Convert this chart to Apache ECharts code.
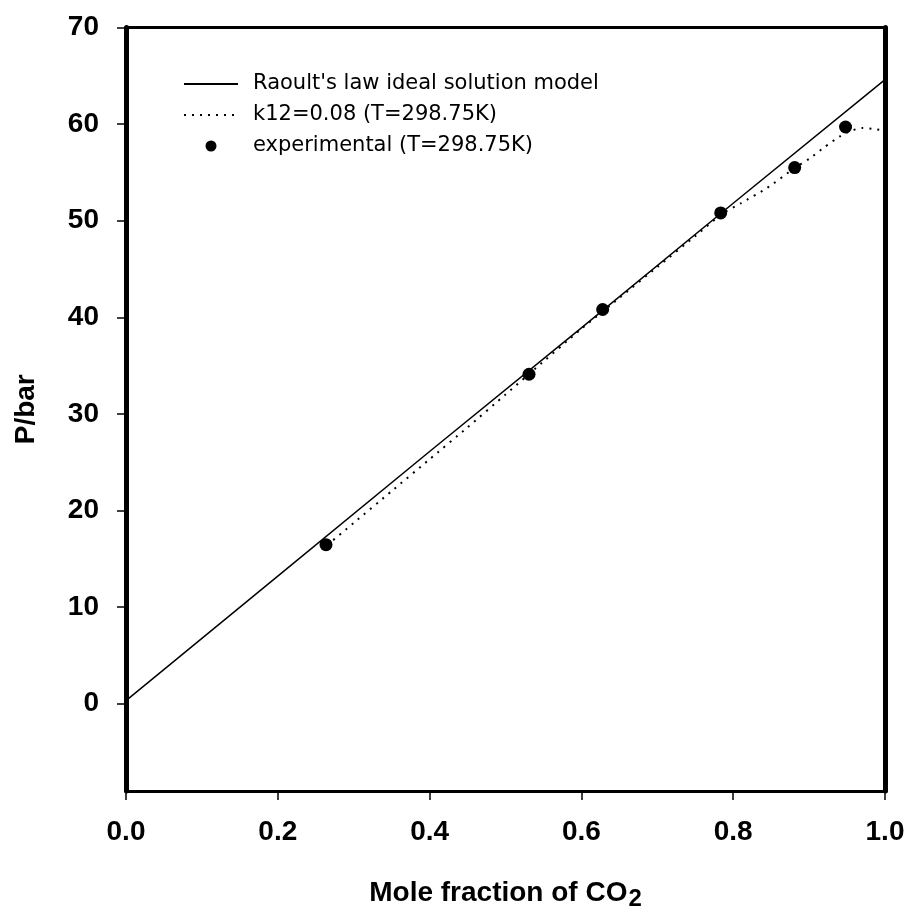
<!DOCTYPE html>
<html lang="en">

<head>
    <meta charset="UTF-8">
    <title>P-x CO2</title>
    <script type="text/javascript" src="https://cdn.jsdelivr.net/npm/echarts@6/dist/echarts.min.js"></script>
    <style>
        body {
            margin: 0;
            background-color: #ffffff;
            overflow: hidden;
        }
    </style>
</head>

<body>
    <div style="width: 908px; height: 911px" id="container"></div>
</body>
<script>
    var dom = document.getElementById("container");
    var myChart = echarts.init(dom);

    let raoultX = [0, 0.2, 0.4, 0.6, 0.8, 1.0];
    let raoultP = [0.3, 13.2, 26.1, 38.9, 51.8, 64.6];
    let k12X = [0.265, 0.30, 0.35, 0.40, 0.45, 0.50, 0.53, 0.60, 0.65, 0.70, 0.75, 0.785, 0.81, 0.845, 0.88, 0.90, 0.92, 0.94, 0.955, 0.97, 0.985, 1.0];
    let k12P = [16.4, 18.7, 22.0, 25.3, 28.6, 32.0, 34.05, 38.8, 42.0, 45.2, 48.4, 50.7, 51.8, 53.4, 55.4, 56.4, 57.6, 58.7, 59.3, 59.6, 59.5, 59.3];
    let expX = [0.2635, 0.531, 0.628, 0.7835, 0.881, 0.948];
    let expP = [16.45, 34.1, 40.8, 50.8, 55.5, 59.7];
    let yTicks = [0, 10, 20, 30, 40, 50, 60, 70];
    let names = ["Raoult's law ideal solution model", 'k12=0.08 (T=298.75K)', 'experimental (T=298.75K)'];

    let zip = (xs, ys) => xs.map((x, i) => [x, ys[i]]);
    let font = 'Liberation Sans, Arial, sans-serif';
    let noDot = { color: 'rgba(0,0,0,0)', borderWidth: 0, opacity: 0 };

    var option = {
        backgroundColor: '#ffffff',
        animation: false,
        grid: {
            left: 126,
            right: 23,
            top: 27.5,
            bottom: 120,
            outerBoundsMode: 'none',
            containLabel: false
        },
        legend: {
            orient: 'vertical',
            left: 183,
            top: 73,
            padding: 0,
            itemWidth: 54,
            itemHeight: 11,
            itemGap: 9,
            data: [
                { name: names[0], itemStyle: noDot },
                { name: names[1], itemStyle: noDot },
                { name: names[2] }
            ],
            textStyle: {
                fontFamily: 'DejaVu Sans',
                fontSize: 21,
                lineHeight: 22,
                color: '#000',
                padding: [0, 0, 0, 10]
            }
        },
        xAxis: [{
            type: 'value',
            min: 0,
            max: 1,
            interval: 0.2,
            position: 'bottom',
            name: '{a|Mole fraction of CO}{b|2}',
            nameLocation: 'middle',
            nameGap: 84,
            nameTextStyle: {
                rich: {
                    a: { fontFamily: font, fontWeight: 'bold', fontSize: 28, color: '#000' },
                    b: { fontFamily: font, fontWeight: 'bold', fontSize: 24, color: '#000', padding: [12, 0, 0, 1] }
                }
            },
            splitLine: { show: false },
            axisLine: { onZero: false, lineStyle: { color: '#000', width: 3 } },
            axisTick: { inside: false, length: 9, lineStyle: { color: '#000', width: 1.5 } },
            axisLabel: {
                margin: 27,
                fontFamily: font,
                fontWeight: 'bold',
                fontSize: 28,
                color: '#000',
                formatter: v => v.toFixed(1)
            }
        }, {
            type: 'value',
            min: 0,
            max: 1,
            position: 'top',
            splitLine: { show: false },
            axisLine: { onZero: false, lineStyle: { color: '#000', width: 3 } },
            axisTick: { show: false },
            axisLabel: { show: false }
        }],
        yAxis: [{
            type: 'value',
            min: -9.05,
            max: 70,
            position: 'left',
            name: 'P/bar',
            nameLocation: 'middle',
            nameGap: 86,
            nameTextStyle: {
                fontFamily: font,
                fontWeight: 'bold',
                fontSize: 28,
                color: '#000'
            },
            splitLine: { show: false },
            axisLine: { onZero: false, lineStyle: { color: '#000', width: 5 } },
            axisTick: {
                inside: false,
                length: 9,
                customValues: yTicks,
                lineStyle: { color: '#000', width: 1.5 }
            },
            axisLabel: {
                margin: 27,
                customValues: yTicks,
                fontFamily: font,
                fontWeight: 'bold',
                fontSize: 28,
                color: '#000'
            }
        }, {
            type: 'value',
            min: -9.05,
            max: 70,
            position: 'right',
            splitLine: { show: false },
            axisLine: { onZero: false, lineStyle: { color: '#000', width: 5 } },
            axisTick: { show: false },
            axisLabel: { show: false }
        }],
        series: [{
            name: names[0],
            type: 'line',
            data: zip(raoultX, raoultP),
            symbol: 'none',
            lineStyle: { color: '#000', width: 1.5 },
            itemStyle: { color: '#000' },
            z: 2
        }, {
            name: names[1],
            type: 'line',
            data: zip(k12X, k12P),
            symbol: 'none',
            smooth: 0.2,
            lineStyle: { color: '#000', width: 2, type: [2, 6] },
            itemStyle: { color: '#000' },
            z: 2
        }, {
            name: names[2],
            type: 'scatter',
            data: zip(expX, expP),
            symbol: 'circle',
            symbolSize: 13,
            itemStyle: { color: '#000', opacity: 1 },
            z: 3
        }]
    };
    if (option && typeof option === 'object') {
        myChart.setOption(option);
    }
</script>

</html>
